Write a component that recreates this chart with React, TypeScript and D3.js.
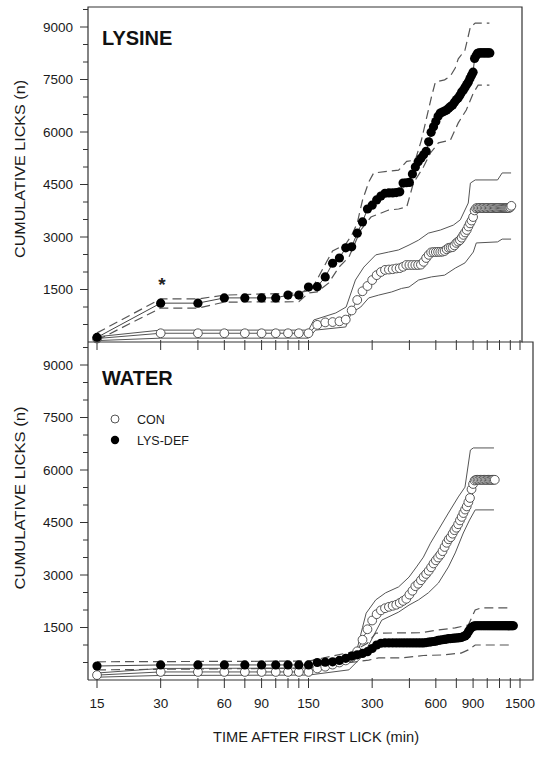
import React from 'react';
import * as d3 from 'd3';

// one reading every 15 min, starting at 15 min after the first lick
const STEP = 15;

// cumulative licks (n) — LYSINE solution
const lysineDef = [
  130, 1110, 1110, 1260, 1260, 1260, 1260, 1340, 1340, 1570,
  1580, 1860, 2250, 2400, 2690, 2720, 3110, 3430, 3800, 3910,
  4060, 4170, 4250, 4260, 4260, 4270, 4290, 4540, 4550, 4560,
  4800, 5000, 5150, 5250, 5350, 5450, 5720, 5990, 6150, 6300,
  6450, 6540, 6570, 6600, 6630, 6680, 6730, 6770, 6850, 6920,
  6970, 7050, 7140, 7200, 7280, 7360, 7430, 7530, 7620, 7710,
  8100, 8180, 8250, 8260, 8260, 8260, 8260, 8260, 8260, 8260, 8260, 8260,
];
const lysineCon = [
  100, 250, 250, 250, 250, 250, 250, 250, 250, 250,
  490, 560, 570, 590, 640, 900, 1200, 1450, 1600, 1770,
  1910, 2000, 2060, 2070, 2080, 2100, 2110, 2150, 2200, 2200,
  2200, 2200, 2200, 2210, 2290, 2400, 2490, 2560, 2570, 2570,
  2575, 2575, 2580, 2600, 2650, 2690, 2700, 2710, 2760, 2830,
  2870, 2910, 2980, 3060, 3130, 3200, 3300, 3390, 3470, 3570,
  3760, 3820, 3830, 3830, 3830, 3830, 3830, 3830, 3830, 3830,
  3830, 3830, 3830, 3830, 3830, 3830, 3830, 3830, 3830, 3830,
  3830, 3830, 3830, 3830, 3830, 3830, 3830, 3830, 3830, 3850, 3890,
];

// cumulative licks (n) — WATER
const waterDef = [
  400, 430, 430, 430, 430, 430, 430, 430, 430, 430,
  500, 510, 520, 560, 620, 680, 720, 760, 810, 900,
  1000, 1050, 1060, 1060, 1060, 1060, 1060, 1060, 1060, 1060,
  1060, 1060, 1060, 1060, 1060, 1070, 1080, 1090, 1100, 1110,
  1130, 1140, 1150, 1160, 1170, 1180, 1185, 1190, 1195, 1200,
  1205, 1210, 1220, 1240, 1260, 1300, 1380, 1450, 1500, 1530,
  1545, 1550, 1550, 1550, 1550, 1550, 1550, 1550, 1550, 1550,
  1550, 1550, 1550, 1550, 1550, 1550, 1550, 1550, 1550, 1550,
  1550, 1550, 1550, 1550, 1550, 1550, 1550, 1550, 1550, 1550,
  1550, 1550, 1550,
];
const waterCon = [
  140, 230, 230, 230, 230, 230, 230, 230, 230, 230,
  330, 380, 440, 500, 560, 650, 820, 1150, 1450, 1700,
  1880, 1990, 2050, 2090, 2120, 2150, 2200, 2260, 2320, 2440,
  2550, 2680, 2750, 2850, 2950, 3030, 3120, 3220, 3330, 3420,
  3500, 3580, 3680, 3800, 3920, 4020, 4080, 4180, 4280, 4350,
  4450, 4560, 4660, 4770, 4870, 4960, 5080, 5200, 5450, 5600,
  5700, 5720, 5720, 5720, 5720, 5720, 5720, 5720, 5720, 5720,
  5720, 5720, 5720, 5720, 5720, 5720,
];

// ±SEM envelopes as [min, licks]
const lysineDefHi = [
  [15, 260], [30, 1230], [45, 1230], [60, 1340], [135, 1400], [155, 1490], [183, 2300],
  [195, 2600], [225, 2800], [240, 3050], [255, 3400], [270, 4050], [289, 4570], [305, 4830],
  [400, 4910], [437, 5160], [480, 5200], [513, 5770], [572, 7000], [597, 7430], [660, 7490],
  [703, 7600], [741, 7830], [766, 8090], [824, 8340], [874, 9000], [921, 9110], [1075, 9110],
];
const lysineDefLo = [
  [15, 50], [30, 970], [45, 970], [60, 1140], [135, 1150], [150, 1400], [165, 1430],
  [187, 1690], [209, 2140], [233, 2430], [265, 3200], [296, 3570], [359, 3770], [400, 3800],
  [437, 3860], [470, 4540], [524, 5000], [566, 5400], [617, 5690], [703, 5770], [766, 6260],
  [836, 6630], [902, 7110], [951, 7340], [1075, 7340],
];
const lysineConHi = [
  [15, 150], [30, 340], [150, 340], [159, 630], [202, 830], [226, 1000], [250, 1770],
  [274, 2140], [312, 2490], [359, 2570], [400, 2630], [448, 2770], [497, 2910], [553, 3110],
  [631, 3200], [726, 3340], [783, 3490], [854, 3970], [874, 4540], [921, 4630], [1175, 4630],
  [1235, 4830], [1361, 4830],
];
const lysineConLo = [
  [15, 40], [30, 110], [150, 110], [162, 340], [225, 430], [239, 830], [265, 1000],
  [289, 1260], [322, 1340], [371, 1430], [413, 1530], [448, 1570], [497, 1770], [572, 1860],
  [660, 1910], [741, 2110], [824, 2260], [902, 2570], [932, 2830], [1175, 2860], [1235, 2940],
  [1361, 2940],
];
const waterDefHi = [
  [15, 520], [150, 540], [240, 800], [285, 1050], [312, 1340], [513, 1350], [617, 1430],
  [741, 1490], [854, 1570], [921, 2000], [983, 2060], [1380, 2060],
];
const waterDefLo = [
  [15, 290], [150, 340], [289, 570], [322, 630], [413, 630], [524, 700], [637, 714],
  [790, 770], [854, 860], [921, 1000], [983, 1000], [1380, 1000],
];
const waterConHi = [
  [15, 200], [30, 330], [150, 340], [240, 600], [255, 900], [270, 1500], [281, 1910],
  [312, 2290], [347, 2490], [400, 2660], [448, 2940], [486, 3230], [524, 3510], [566, 3910],
  [617, 4290], [688, 4770], [766, 5230], [824, 5510], [874, 6570], [902, 6630], [1130, 6630],
];
const waterConLo = [
  [15, 80], [30, 130], [150, 140], [233, 290], [268, 660], [289, 1000], [333, 1710],
  [400, 1940], [448, 2140], [497, 2290], [553, 2490], [617, 2770], [688, 3230], [741, 3630],
  [809, 4200], [866, 4570], [921, 4860], [1130, 4860],
];

const xTickValues = [15, 30, 45, 60, 75, 90, 105, 120, 135, 150, 300, 450, 600, 750, 900, 1050, 1200, 1350, 1500];
const xTickLabels = [15, 30, 60, 90, 150, 300, 600, 900, 1500];
const yTickLabels = [1500, 3000, 4500, 6000, 7500, 9000];
const yMinorTicks = d3.range(500, 9501, 500);

const FONT = '"Liberation Sans", Arial, sans-serif';
const LEFT = 88;

const x = d3.scaleLog().domain([15, 1500]).range([97, 520]);

const asPoints = (vals: number[]) => vals.map((v, i) => [(i + 1) * STEP, v] as [number, number]);

function Panel({ top, bottom, def, con, defHi, defLo, conHi, conLo, label, labelY }: any) {
  const y = d3.scaleLinear().domain([0, 9000]).range([bottom, bottom - 315]);
  const line = d3.line<number[]>().x((d) => x(d[0])).y((d) => y(d[1]));
  const defPts = asPoints(def);
  const conPts = asPoints(con);
  return (
    <g>
      {yMinorTicks.filter((t) => y(t) >= top).map((t) => (
        <line key={t} x1={yTickLabels.includes(t) ? LEFT - 8 : LEFT - 5} x2={LEFT} y1={y(t)} y2={y(t)} stroke="#333" />
      ))}
      {yTickLabels.map((t) => (
        <text key={t} x={LEFT - 15} y={y(t)} dy="0.35em" textAnchor="end" fontSize={13.5} fill="#1a1a1a">{t}</text>
      ))}
      {xTickValues.map((t) => (
        <line key={t} x1={x(t)} x2={x(t)} y1={bottom - 2} y2={bottom + 8} stroke="#333" />
      ))}
      <text x={102} y={labelY} fontSize={20} fontWeight="bold" fill="#111">{label}</text>

      <path d={line(conHi) ?? ''} fill="none" stroke="#555" strokeWidth={1} />
      <path d={line(conLo) ?? ''} fill="none" stroke="#555" strokeWidth={1} />
      <path d={line(defHi) ?? ''} fill="none" stroke="#555" strokeWidth={1.2} strokeDasharray="9,5" />
      <path d={line(defLo) ?? ''} fill="none" stroke="#555" strokeWidth={1.2} strokeDasharray="9,5" />
      <path d={line(conPts) ?? ''} fill="none" stroke="#555" strokeWidth={1} />
      <path d={line(defPts) ?? ''} fill="none" stroke="#444" strokeWidth={1} />

      {conPts.map((d, i) => (
        <circle key={'c' + i} cx={x(d[0])} cy={y(d[1])} r={4.4} fill="#fff" stroke="#444" strokeWidth={0.9} />
      ))}
      {defPts.map((d, i) => (
        <circle key={'d' + i} cx={x(d[0])} cy={y(d[1])} r={4.6} fill="#000" />
      ))}
    </g>
  );
}

export default function App() {
  return (
    <svg width={537} height={759} style={{ position: 'absolute', left: 0, top: 0, background: '#fff' }} fontFamily={FONT}>
      <rect width={537} height={759} fill="#fff" />
      <Panel top={7} bottom={342} def={lysineDef} con={lysineCon} defHi={lysineDefHi} defLo={lysineDefLo}
        conHi={lysineConHi} conLo={lysineConLo} label="LYSINE" labelY={45} />
      <Panel top={342} bottom={680} def={waterDef} con={waterCon} defHi={waterDefHi} defLo={waterDefLo}
        conHi={waterConHi} conLo={waterConLo} label="WATER" labelY={385} />

      {/* frames */}
      <path d={`M${LEFT},680V7H522V342H${LEFT}`} fill="none" stroke="#333" strokeWidth={1.2} />
      <path d={`M${LEFT},680H533V342H522`} fill="none" stroke="#333" strokeWidth={1.2} />

      <text x={162} y={291} textAnchor="middle" fontSize={19} fontWeight="bold" fill="#222">*</text>

      {xTickLabels.map((t) => (
        <text key={t} x={x(t)} y={708} textAnchor="middle" fontSize={13.5} fill="#1a1a1a">{t}</text>
      ))}
      <text x={316} y={742} textAnchor="middle" fontSize={14} fill="#1a1a1a" textLength={206} lengthAdjust="spacingAndGlyphs">
        TIME AFTER FIRST LICK (min)
      </text>
      <text transform="translate(25,169) rotate(-90)" textAnchor="middle" fontSize={14} fill="#1a1a1a" textLength={178} lengthAdjust="spacingAndGlyphs">
        CUMULATIVE LICKS (n)
      </text>
      <text transform="translate(25,498) rotate(-90)" textAnchor="middle" fontSize={14} fill="#1a1a1a" textLength={183} lengthAdjust="spacingAndGlyphs">
        CUMULATIVE LICKS (n)
      </text>

      {/* legend */}
      <circle cx={115} cy={419} r={4} fill="#fff" stroke="#555" strokeWidth={1} />
      <text x={137} y={423.5} fontSize={12.5} fill="#1a1a1a">CON</text>
      <circle cx={115} cy={440} r={4.2} fill="#000" />
      <text x={137} y={444.5} fontSize={12.5} fill="#1a1a1a">LYS-DEF</text>
    </svg>
  );
}
